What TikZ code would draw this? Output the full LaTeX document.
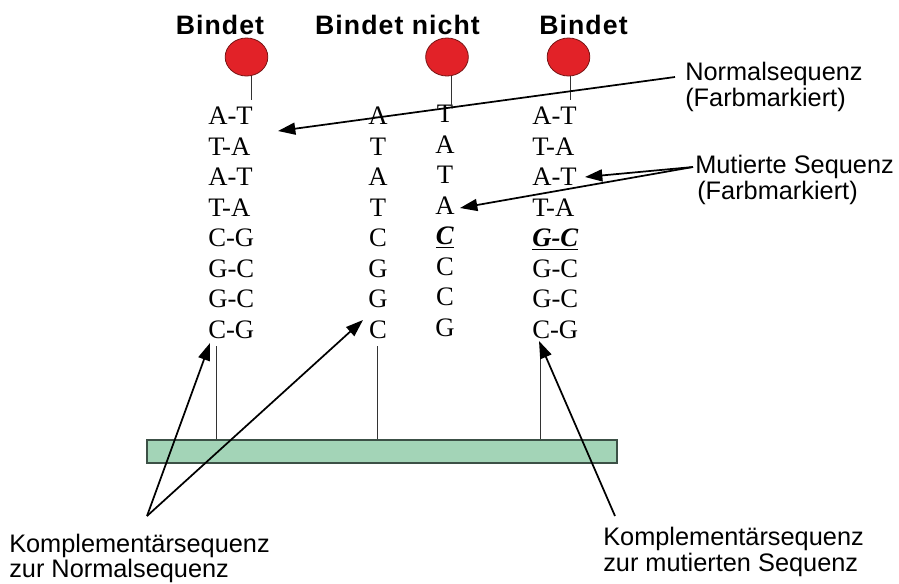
\documentclass[tikz,border=0pt]{standalone}
\usepackage{fontspec}
\setmainfont{Liberation Serif}
\setsansfont{Liberation Sans}
\usetikzlibrary{arrows.meta, positioning, shapes.geometric}

\definecolor{kugelrot}{RGB}{226,34,40}
\definecolor{kugelrand}{RGB}{120,20,20}
\definecolor{leistegruen}{RGB}{163,212,183}
\definecolor{leisterand}{RGB}{60,80,70}

\begin{document}
\begin{tikzpicture}[
  x=0.75pt, y=-0.75pt,
  kopf/.style={anchor=base, inner sep=0,
    font=\sffamily\bfseries\fontsize{20}{22}\selectfont\addfontfeature{LetterSpace=4}},
  lbl/.style={anchor=base west, inner sep=0,
    font=\sffamily\fontsize{19}{21}\selectfont},
  seq/.style={inner sep=0, font=\fontsize{20}{22.875}\selectfont},
  kugel/.style={ellipse, draw=kugelrand, line width=0.6pt, fill=kugelrot,
    inner sep=0, minimum width=32pt, minimum height=28.5pt},
  leiste/.style={draw=leisterand, line width=0.8pt, fill=leistegruen,
    inner sep=0, minimum width=352.5pt, minimum height=17.25pt},
  stiel/.style={line width=0.6pt, draw=black!80},
  pfeil/.style={line width=1.3pt, -{Triangle[length=13pt,width=9pt]}}
]
  \useasboundingbox (0,0) rectangle (899,583);

  % headings and beads
  \node[kopf] (kopfA) at (220,34) {Bindet};
  \node[kopf] (kopfM) at (397.5,34) {Bindet nicht};
  \node[kopf] (kopfB) at (583.5,34) {Bindet};

  \node[kugel] (kugelA) at (246.5,57) {};
  \node[kugel] (kugelM) at (447,57) {};
  \node[kugel] (kugelB) at (568.5,57) {};

  % sequence columns
  \node[seq, anchor=north west, align=left] (seqA) at (208,107)
    {A-T\\T-A\\A-T\\T-A\\C-G\\G-C\\G-C\\C-G};
  \node[seq, anchor=north, align=center] (seqM) at (378,107)
    {A\\T\\A\\T\\C\\G\\G\\C};
  \node[seq, anchor=north, align=center] (seqN) at (445,105)
    {T\\A\\T\\A\\\underline{\textbf{\textit{C}}}\\C\\C\\G};
  \node[seq, anchor=north west, align=left] (seqB) at (532,107)
    {A-T\\T-A\\A-T\\T-A\\\underline{\textbf{\textit{G-C}}}\\G-C\\G-C\\C-G};

  \draw[stiel] ([xshift=3.75pt]kugelA.south) -- ++(0,24);
  \draw[stiel] ([xshift=3pt]kugelM.south) -- ++(0,30);
  \draw[stiel] ([xshift=1.5pt]kugelB.south) -- ++(0,24);

  % carrier with the three strands
  \node[leiste] (leiste) at (382,451.5) {};
  \coordinate (fussA) at (216,346);
  \coordinate (fussM) at (377,346);
  \coordinate (fussB) at (540,343);
  \draw[stiel] (fussA) -- (fussA |- leiste.north);
  \draw[stiel] (fussM) -- (fussM |- leiste.north);
  \draw[stiel] (fussB) -- (fussB |- leiste.north);

  % labels
  \node[lbl] (normal) at (685,80) {Normalsequenz};
  \node[lbl] (normalb) at (685,106) {(Farbmarkiert)};
  \node[lbl] (mutiert) at (695,173) {Mutierte Sequenz};
  \node[lbl] (mutiertb) at (697,199) {(Farbmarkiert)};
  \node[lbl] (kompA) at (9,552) {Komplementärsequenz};
  \node[lbl] (kompAb) at (9,577) {zur Normalsequenz};
  \node[lbl] (kompB) at (603,545) {Komplementärsequenz};
  \node[lbl] (kompBb) at (603,571) {zur mutierten Sequenz};

  % arrow targets
  \coordinate (zielN) at (278,131);
  \coordinate (zielM1) at (585,177);
  \coordinate (zielM2) at (460,208);
  \coordinate (zielKA) at (210,343);
  \coordinate (zielKM) at (363,320);
  \coordinate (zielKB) at (539,341);

  \draw[pfeil] ([shift={(-10,-3)}]normal.base west) -- (zielN);
  \draw[pfeil] ([shift={(-2,-6)}]mutiert.base west) -- (zielM1);
  \draw[pfeil] ([shift={(-2,-6)}]mutiert.base west) -- (zielM2);
  \draw[pfeil] ([shift={(138,-36)}]kompA.base west) -- (zielKA);
  \draw[pfeil] ([shift={(138,-36)}]kompA.base west) -- (zielKM);
  \draw[pfeil] ([shift={(12,-29)}]kompB.base west) -- (zielKB);

\end{tikzpicture}
\end{document}
